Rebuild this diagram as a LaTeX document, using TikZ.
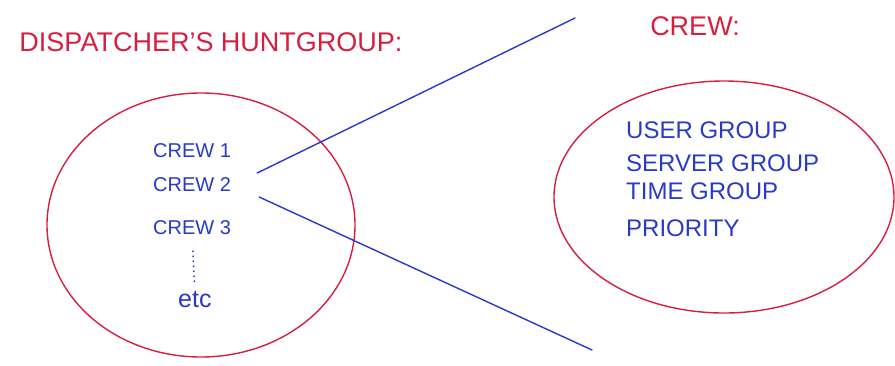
\documentclass[tikz,border=0pt]{standalone}
\usepackage{fontspec}
\setmainfont{Liberation Sans}
\usetikzlibrary{positioning}
\definecolor{penred}{RGB}{216,30,64}
\definecolor{penblue}{RGB}{40,58,198}
\begin{document}
\begin{tikzpicture}[x=1pt, y=-1pt, line cap=round, line join=round,
    redtext/.style={text=penred, inner sep=0pt, font=\fontsize{27}{30}\selectfont},
    bluetext/.style={text=penblue, inner sep=0pt, anchor=west, font=\fontsize{20}{22}\selectfont},
    grouptext/.style={bluetext, font=\fontsize{24}{26}\selectfont},
    penline/.style={line width=1.4pt}]
    \useasboundingbox (0,0) rectangle (895,365);
    \def\lx{153}
    \def\rx{626}
    % headings
    \node[redtext] (hunt) at (211,42) {DISPATCHER'S HUNTGROUP:};
    \node[redtext] (crew) at (695,26) {CREW:};
    % the two rings
    \draw[penred, penline] (201,225) ellipse [x radius=154, y radius=132];
    \draw[penred, penline] (724,197) ellipse [x radius=170, y radius=116];
    % huntgroup members
    \node[bluetext] (crewa) at (\lx,151) {CREW 1};
    \node[bluetext] (crewb) at (\lx,185) {CREW 2};
    \node[bluetext] (crewc) at (\lx,228) {CREW 3};
    \node[bluetext, font=\fontsize{25}{27}\selectfont] (etc) at (178,300) {etc};
    \draw[penblue, line width=2pt, dash pattern=on 0pt off 5pt, shorten <=16pt, shorten >=7pt] (crewc.south) -- (etc.north);
    % crew settings
    \node[grouptext] (user) at (\rx,130) {USER GROUP};
    \node[grouptext] (server) at (\rx,163) {SERVER GROUP};
    \node[grouptext] (time) at (\rx,191) {TIME GROUP};
    \node[grouptext] (prio) at (\rx,228) {PRIORITY};
    % zoom lines
    \coordinate (topend) at (575,18);
    \coordinate (botend) at (592,350);
    \draw[penblue, penline] ([shift={(26,-12)}]crewb.east) -- (topend);
    \draw[penblue, penline] ([shift={(28,12)}]crewb.east) -- (botend);
\end{tikzpicture}
\end{document}
